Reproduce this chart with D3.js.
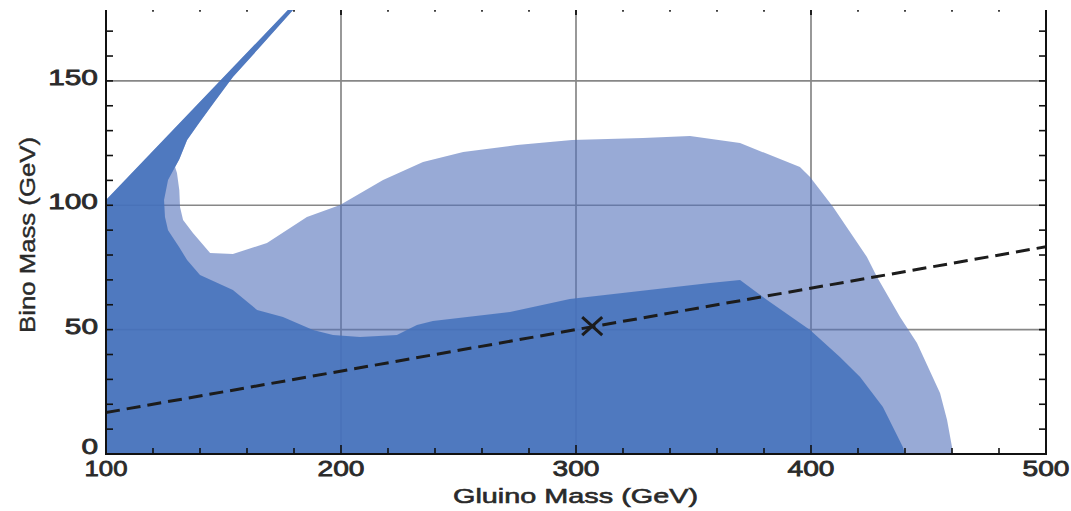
<!DOCTYPE html>
<html>
<head>
<meta charset="utf-8">
<script src="https://cdn.jsdelivr.net/npm/d3@7/dist/d3.min.js"></script>
<style>
  html, body { margin: 0; padding: 0; background: #fff; }
  svg { display: block; }
  text { font-family: "Liberation Sans", Arial, Helvetica, sans-serif; }
</style>
</head>
<body>
<svg id="chart" width="1071" height="511"></svg>
<script>
// ---------------- data ----------------
const xDomain = [100, 500];
const yDomain = [0, 178.5];
const xTicksMajor = [100, 200, 300, 400, 500];
const yTicksMajor = [0, 50, 100, 150];
const xGridValues = [200, 300, 400];
const yGridValues = [50, 100, 150];
const xMinorStep = 20;
const yMinorStep = 10;

// wedge boundary shared by both regions
const wedgeOuter = [[100, 0], [100, 102.1], [177.4, 178.5]];
const wedgeInner = [[179.6, 178.5], [165.5, 163.6], [154.0, 151.6], [146.5, 142.0],
  [139.6, 133.1], [134.5, 126.2], [131.2, 118.5], [129.4, 115.4]];
// dark (inner) region lower boundary
const darkEdge = [[126.4, 110.2], [124.7, 102.1], [125.1, 95.3], [126.4, 90.0],
  [131.1, 83.2], [134.5, 78.0], [140.0, 72.0], [154.0, 65.9], [164.3, 57.9],
  [175.3, 55.1], [188.1, 49.9], [196.6, 47.8], [208.1, 47.0], [223.8, 47.8],
  [232.3, 51.9], [239.1, 53.5], [271.9, 57.1], [297.4, 62.3], [357.0, 68.7],
  [369.8, 70.0], [381.3, 61.9], [399.6, 49.9], [412.3, 39.0], [420.9, 31.0],
  [430.6, 18.9], [439.1, 2.8], [440.0, 0]];
// light (outer) region boundary
const lightEdge = [[130.2, 113.0], [131.2, 106.0], [131.5, 99.3], [132.8, 94.1],
  [137.0, 88.8], [144.3, 80.8], [154.0, 80.4], [168.5, 84.8], [185.5, 95.3],
  [199.6, 100.1], [217.9, 110.2], [234.9, 117.4], [252.0, 121.4], [274.9, 124.2],
  [298.3, 126.2], [328.5, 127.0], [348.5, 127.8], [369.8, 125.0], [395.3, 115.4],
  [399.6, 111.4], [409.4, 99.3], [423.8, 79.2], [428.1, 71.2], [437.9, 55.1],
  [445.1, 44.6], [454.9, 24.5], [457.9, 13.7], [460.0, 2.8], [460.4, 0]];
// dashed reference line (m_bino = m_gluino / 6)
const refLine = [[100, 100 / 6], [500, 500 / 6]];
// benchmark point
const benchmark = [[306.9, 51.4]];

const xTitle = "Gluino Mass (GeV)";
const yTitle = "Bino Mass (GeV)";

// ---------------- layout ----------------
const svg = d3.select("#chart");
const pLeft = 106, pRight = 1046, pTop = 10, pBottom = 454;
const x = d3.scaleLinear().domain(xDomain).range([pLeft, pRight]);
const y = d3.scaleLinear().domain(yDomain).range([pBottom, pTop]);

svg.append("defs").append("clipPath").attr("id", "plotclip")
  .append("rect").attr("x", pLeft).attr("y", pTop)
  .attr("width", pRight - pLeft).attr("height", pBottom - pTop);

const plot = svg.append("g").attr("clip-path", "url(#plotclip)");

// gridlines (under the translucent regions)
plot.append("g").selectAll("line").data(xGridValues).join("line")
  .attr("x1", d => x(d)).attr("x2", d => x(d))
  .attr("y1", pTop).attr("y2", pBottom)
  .attr("stroke", "#878787").attr("stroke-width", 1.7);
plot.append("g").selectAll("line").data(yGridValues).join("line")
  .attr("x1", pLeft).attr("x2", pRight)
  .attr("y1", d => y(d)).attr("y2", d => y(d))
  .attr("stroke", "#878787").attr("stroke-width", 1.7);

const area = d3.line().x(d => x(d[0])).y(d => y(d[1]));
const lightPoly = wedgeOuter.concat(wedgeInner, lightEdge);
const darkPoly = wedgeOuter.concat(wedgeInner, darkEdge);

plot.append("path").attr("d", area(lightPoly) + "Z")
  .attr("fill", "rgb(83,113,187)").attr("fill-opacity", 0.6);
plot.append("path").attr("d", area(darkPoly) + "Z")
  .attr("fill", "rgb(68,113,187)").attr("fill-opacity", 0.86);

// dashed line
plot.append("path").attr("d", area(refLine))
  .attr("fill", "none").attr("stroke", "#1c1c1c")
  .attr("stroke-width", 3).attr("stroke-dasharray", "14,7");

// benchmark X marker
const mk = plot.append("g").selectAll("g").data(benchmark).join("g")
  .attr("transform", d => `translate(${x(d[0])},${y(d[1])})`);
mk.append("line").attr("x1", -10).attr("y1", -9).attr("x2", 10).attr("y2", 9)
  .attr("stroke", "#1c1c1c").attr("stroke-width", 3);
mk.append("line").attr("x1", -10).attr("y1", 9).attr("x2", 10).attr("y2", -9)
  .attr("stroke", "#1c1c1c").attr("stroke-width", 3);

// ---------------- axes / frame ----------------
const xMinor = d3.range(xDomain[0], xDomain[1] + 0.001, xMinorStep)
  .filter(v => !xTicksMajor.includes(v));
const yMinor = d3.range(0, yDomain[1], yMinorStep)
  .filter(v => !yTicksMajor.includes(v));

const frame = svg.append("g").attr("stroke", "#111");
frame.append("line").attr("x1", pLeft).attr("x2", pLeft).attr("y1", pTop).attr("y2", pBottom + 1).attr("stroke-width", 2);
frame.append("line").attr("x1", pLeft - 1).attr("x2", pRight + 1).attr("y1", pBottom).attr("y2", pBottom).attr("stroke-width", 2);
frame.append("line").attr("x1", pRight).attr("x2", pRight).attr("y1", pTop).attr("y2", pBottom + 1).attr("stroke-width", 2);

// bottom ticks (inward)
frame.append("g").selectAll("line").data(xTicksMajor).join("line")
  .attr("x1", d => x(d)).attr("x2", d => x(d)).attr("y1", pBottom).attr("y2", pBottom - 9).attr("stroke-width", 1.6);
frame.append("g").selectAll("line").data(xMinor).join("line")
  .attr("x1", d => x(d)).attr("x2", d => x(d)).attr("y1", pBottom).attr("y2", pBottom - 6).attr("stroke-width", 1.6);
// top ticks (mostly cut off)
frame.append("g").selectAll("line").data(xTicksMajor.slice(1, -1)).join("line")
  .attr("x1", d => x(d)).attr("x2", d => x(d)).attr("y1", pTop).attr("y2", pTop + 5).attr("stroke-width", 1.8);
frame.append("g").selectAll("line").data(xMinor).join("line")
  .attr("x1", d => x(d)).attr("x2", d => x(d)).attr("y1", pTop).attr("y2", pTop + 1.8).attr("stroke-width", 1.6);
// left / right ticks
const yAll = yMinor.concat(yTicksMajor.filter(v => v > 0));
frame.append("g").selectAll("line").data(yAll).join("line")
  .attr("x1", pLeft).attr("x2", pLeft + 7).attr("y1", d => y(d)).attr("y2", d => y(d)).attr("stroke-width", 1.6);
frame.append("g").selectAll("line").data(yAll).join("line")
  .attr("x1", pRight).attr("x2", pRight - 7).attr("y1", d => y(d)).attr("y2", d => y(d)).attr("stroke-width", 1.6);

// tick labels
svg.append("g").selectAll("text").data(yTicksMajor).join("text")
  .attr("x", 98).attr("y", d => d === 0 ? y(d) : y(d) + 4)
  .attr("text-anchor", "end")
  .attr("font-size", 22).attr("fill", "#2a2a2a")
  .attr("stroke", "#2a2a2a").attr("stroke-width", 0.8)
  .attr("textLength", d => String(d).length * 16.6)
  .attr("lengthAdjust", "spacingAndGlyphs")
  .text(d => d);
svg.append("g").selectAll("text").data(xTicksMajor).join("text")
  .attr("x", d => x(d)).attr("y", 476)
  .attr("text-anchor", "middle")
  .attr("font-size", 22).attr("fill", "#2a2a2a")
  .attr("stroke", "#2a2a2a").attr("stroke-width", 0.8)
  .attr("textLength", d => d === 100 ? 43 : 47)
  .attr("lengthAdjust", "spacingAndGlyphs")
  .text(d => d);

// axis titles
svg.append("text").attr("x", 575.5).attr("y", 503)
  .attr("text-anchor", "middle").attr("font-size", 21).attr("fill", "#2a2a2a")
  .attr("stroke", "#2a2a2a").attr("stroke-width", 0.6)
  .attr("textLength", 245).attr("lengthAdjust", "spacingAndGlyphs")
  .text(xTitle);
svg.append("text")
  .attr("transform", "translate(35,235) rotate(-90)")
  .attr("text-anchor", "middle").attr("font-size", 22).attr("fill", "#2a2a2a")
  .attr("stroke", "#2a2a2a").attr("stroke-width", 0.4)
  .attr("textLength", 196).attr("lengthAdjust", "spacingAndGlyphs")
  .text(yTitle);
</script>
</body>
</html>
